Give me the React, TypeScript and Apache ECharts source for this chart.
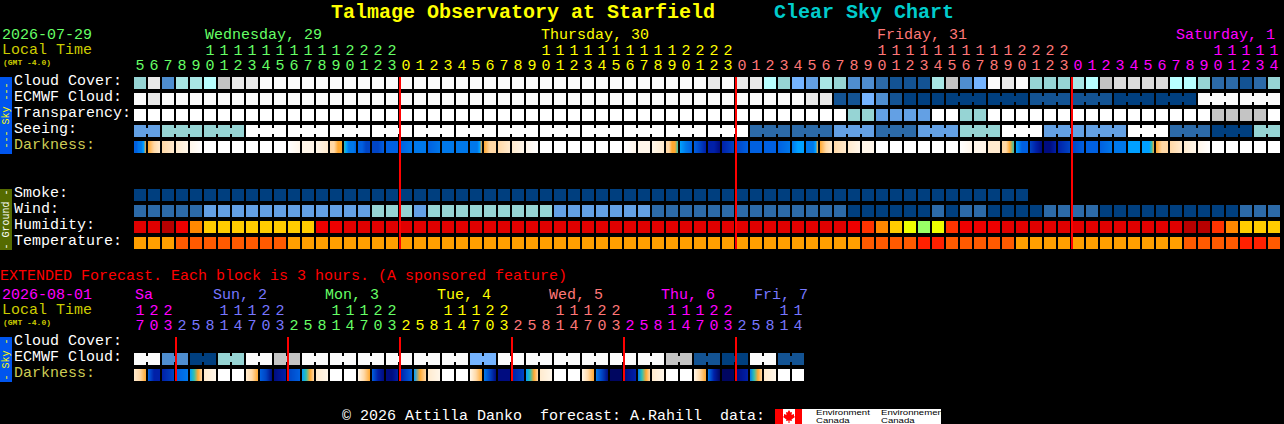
import React, { useEffect, useRef } from "react";
import * as echarts from "echarts";

// ---------- tick labels ----------
const hourOnes = ["5","6","7","8","9","0","1","2","3","4","5","6","7","8","9","0","1","2","3",
  "0","1","2","3","4","5","6","7","8","9","0","1","2","3","4","5","6","7","8","9","0","1","2","3",
  "0","1","2","3","4","5","6","7","8","9","0","1","2","3","4","5","6","7","8","9","0","1","2","3",
  "0","1","2","3","4","5","6","7","8","9","0","1","2","3","4"];
const hourTens = ["","","","","","1","1","1","1","1","1","1","1","1","1","2","2","2","2",
  "","","","","","","","","","","1","1","1","1","1","1","1","1","1","1","2","2","2","2",
  "","","","","","","","","","","1","1","1","1","1","1","1","1","1","1","2","2","2","2",
  "","","","","","","","","","","1","1","1","1","1"];
const extOnes = ["7","0","3",
  "2","5","8","1","4","7","0","3","2","5","8","1","4","7","0","3",
  "2","5","8","1","4","7","0","3","2","5","8","1","4","7","0","3",
  "2","5","8","1","4","7","0","3","2","5","8","1","4"];
const extTens = ["1","2","2",
  "","","","1","1","1","2","2","","","","1","1","1","2","2",
  "","","","1","1","1","2","2","","","","1","1","1","2","2",
  "","","","1","1","1","2","2","","","","1","1"];
const rowLabels = ["Cloud Cover:","ECMWF Cloud:","Transparency:","Seeing:","Darkness:","","","Smoke:","Wind:","Humidity:","Temperature:"];
const extRowLabels = ["Cloud Cover:","ECMWF Cloud:","Darkness:"];

// ---------- hourly forecast ----------
const cloudCover = [50,90,30,60,60,70,80,90,90,100,100,100,100,100,100,100,100,100,100,100,100,100,100,100,100,100,100,100,100,100,100,100,100,100,100,100,100,100,100,100,100,90,100,90,90,70,50,40,35,60,50,30,30,20,10,10,10,60,80,30,40,100,90,100,50,50,50,60,70,80,85,85,85,85,70,70,50,20,20,10,20,50];
const ecmwfCloud = [100,90,100,100,100,100,100,100,100,100,100,100,100,100,100,100,100,100,100,100,100,100,100,100,100,100,100,100,100,100,100,100,100,100,100,100,100,100,100,100,100,100,100,100,100,100,100,100,90,90,10,10,40,30,10,0,0,0,0,0,0,0,0,0,10,10,10,10,10,10,0,0,0,0,0,0,100,100,100,100,100,100];
const transparency = [110,110,110,110,110,110,110,110,110,110,110,110,110,110,110,110,110,110,110,110,110,110,110,110,110,110,110,110,110,110,110,110,110,110,110,110,110,110,110,110,110,110,110,110,110,110,110,110,110,110,110,50,50,35,35,35,35,110,110,50,50,110,110,110,110,110,110,110,110,110,110,110,110,110,110,110,110,80,80,80,80,110];
const seeing = [35,35,50,50,50,50,50,50,110,110,110,110,110,110,110,110,110,110,110,110,110,110,110,110,110,110,110,110,110,110,110,110,110,110,110,110,110,110,110,110,110,110,110,110,20,20,20,20,20,20,35,35,35,20,20,20,35,35,35,50,50,50,110,110,110,35,35,35,35,35,35,110,110,110,20,20,20,0,0,0,50,50];
const smoke = [0,0,0,0,0,0,0,0,0,0,0,0,0,0,0,0,0,0,0,0,0,0,0,0,0,0,0,0,0,0,0,0,0,0,0,0,0,0,0,0,0,0,0,0,0,0,0,0,0,0,0,0,0,0,0,0,0,0,0,0,0,0,0,0];
const wind = [20,20,20,20,20,35,35,35,35,35,35,35,35,35,35,35,35,50,50,50,35,50,50,50,50,50,50,50,50,50,35,35,35,35,35,35,35,20,20,20,20,20,20,20,20,20,20,20,20,20,20,0,0,0,0,0,0,20,0,20,20,0,0,0,0,20,20,20,20,0,0,0,0,0,0,0,0,0,0,20,20,20];
const humidity = [92,92,98,87,72,65,65,65,65,65,65,65,65,87,87,92,92,92,92,92,92,92,92,92,92,92,92,92,92,92,92,92,92,92,92,92,92,92,92,92,92,92,92,92,92,92,92,92,92,92,92,87,80,72,65,55,45,55,80,87,87,87,92,92,92,92,92,92,92,92,92,92,92,92,92,98,98,80,72,65,65,65];
const temperature = [20,20,20,25,25,25,25,25,25,25,25,20,20,20,20,20,20,20,20,20,20,20,20,20,20,20,20,20,20,20,20,20,20,20,20,20,20,20,20,20,20,20,20,20,20,20,20,20,20,20,20,20,25,25,25,25,30,30,25,25,25,25,25,20,20,20,20,20,20,20,20,20,20,20,20,25,25,25,25,30,30,25];
const darkness = [
  [8,8,7,7,6,4],[4,3,2],[3,2],[2,1],[1,0],[0],[0],[0],[0],[0],[0],[0,1],[1,1],[1,2],[3,3,4,4],
  [5,6,7,7,7,8],[8,8,9,9],[9,9,8],[8,8],[8,7],[7],[8,7],[7],[7],[7,7,7,7,6,4],
  [4,3,3],[3,2],[2,1],[1,0],[0],[0],[0],[0],[0],[0],[0,1],[1,1],[1,2],[3,3,4,4,5],
  [6,7,8],[8,9,10],[10,10,11],[10,9],[9,8],[8],[8],[8,7],[7,6,6],[7,7,7,7,6,4],
  [4,3,2],[3,2],[2,1],[1],[0],[0],[0],[0],[0],[0],[0,1],[1,1],[2,2],[3,3,4,5],
  [6,8,8],[9,10,11],[11,11,10],[10,9],[9,8],[8],[8,7],[7],[6],[6,6,6,6,5,4],
  [4,3,3],[3,2],[2,1],[1,0],[0],[0],[0],[0],[0],
];

// ---------- extended forecast, 3-hour blocks ----------
const extEcmwf = [100,100,30,30,0,0,50,50,100,100,80,80,100,100,100,100,100,100,100,100,100,100,100,100,40,40,100,100,100,100,100,100,100,100,100,100,100,100,80,80,10,10,0,0,100,100,10,10];
const extDarkness = [
  [2,3,4],[8,10,10],[10,9],[8,7],[6,5,4,3],[2,1],[0],[0],
  [2,3,4],[8,9,11],[11,10],[9,8],[6,5,4,3],[2,1],[0],[0],
  [1,3,4],[8,10,11],[11,11,10],[10,8],[6,4,3],[2,1],[0],[0],
  [1,3,4],[7,9,11],[11,11],[10,9],[6,5,4,3],[2,1],[0],[0],
  [1,3,4],[7,9,11],[12,12],[11,10],[7,5,4,3],[2,1],[0],[0],
  [1,3,4],[7,10,12],[12,12],[11,10],[7,5,4,3],[2,1],[0],[0],
];
const midnightCols = [19, 43, 67];
const extMidnightCols = [3, 11, 19, 27, 35, 43];
const ecmwfBlockFrom = 58;
const ecmwfBlockHours = 3;
const seeingBlockFrom = 2;
const seeingBlockHours = 3;
const extBlockHours = 2;

const dayLabels = [
  { t: "Wednesday, 29", x: 205, c: "#66ff66" },
  { t: "Thursday, 30", x: 541, c: "#ffff00" },
  { t: "Friday, 31", x: 877, c: "#ff7777" },
  { t: "Saturday, 1", x: 1176, c: "#ff00ff" },
];
const extDayLabels = [
  { t: "Sa", x: 135, c: "#ff00ff" },
  { t: "Sun, 2", x: 213, c: "#7777ff" },
  { t: "Mon, 3", x: 325, c: "#66ff66" },
  { t: "Tue, 4", x: 437, c: "#ffff00" },
  { t: "Wed, 5", x: 549, c: "#ff7777" },
  { t: "Thu, 6", x: 661, c: "#ff00ff" },
  { t: "Fri, 7", x: 754, c: "#7777ff" },
];

// ---------- colour scales ----------
const skyColors: Record<number, string> = {
  0: "#003f7f", 10: "#135393", 20: "#2c6aa8", 30: "#4f8ed0", 35: "#63a0e4", 40: "#75b4ff",
  50: "#96d4d4", 60: "#a8e6e4", 70: "#b8ffff", 80: "#c4c4c4", 85: "#dcdcdc", 90: "#e9e9e9",
  100: "#fbfbfb", 110: "#ffffff",
};
const humidityColors: Record<number, string> = {
  98: "#b80000", 92: "#e00000", 87: "#ee0000", 80: "#ff3300", 72: "#ff8800", 65: "#ffcc00", 55: "#eeff00", 45: "#99ff66",
};
const temperatureColors: Record<number, string> = { 20: "#ff9f00", 25: "#ff5a00", 30: "#ff2000" };
const darknessColors = ["#ffffff","#fff6ea","#ffeace","#ffd8a6","#ffa830","#30c0b0","#00a0ff","#0078ea","#0060e0","#0044c4","#0020a8","#000c80","#000660"];

const GREEN = "#66ff66", YELLOW = "#ffff00", SALMON = "#ff7777", MAGENTA = "#ff00ff", VIOLET = "#7777ff";
const OLIVE = "#cccc00", DARKLABEL = "#cccc55";
const MONO = '"Liberation Mono", monospace';
const SANS = '"Liberation Sans", sans-serif';
const font = (px: number, bold = false) => `${bold ? "bold " : ""}${px}px ${MONO}`;

const topHourColor = (i: number) => (i < 19 ? GREEN : i < 43 ? YELLOW : i < 67 ? SALMON : MAGENTA);
const extHourColor = (i: number) =>
  i < 3 ? MAGENTA : i < 11 ? VIOLET : i < 19 ? GREEN : i < 27 ? YELLOW : i < 35 ? SALMON : i < 43 ? MAGENTA : VIOLET;

const CELL = 12;

const hexRgb = (h: string) => [1, 3, 5].map((k) => parseInt(h.slice(k, k + 2), 16));
// Colour across one darkness cell, at position t in 0..1, between its samples.
function darknessAt(s: number[], t: number) {
  if (s.length === 1) return darknessColors[s[0]];
  const p = t * (s.length - 1);
  const k = Math.min(Math.floor(p), s.length - 2);
  const a = hexRgb(darknessColors[s[k]]), b = hexRgb(darknessColors[s[k + 1]]);
  const f = p - k;
  return `rgb(${a.map((v, n) => Math.round(v + (b[n] - v) * f)).join(",")})`;
}

function cellSeries(name: string, gridIdx: number, row: number, values: number[], colors: Record<number, string>, joined?: (i: number) => boolean) {
  return {
    type: "custom", name, xAxisIndex: gridIdx === 0 ? 0 : 2, yAxisIndex: gridIdx, clip: false, silent: true,
    encode: { x: 0, y: 1 },
    data: values.map((v, i) => [i, row, v]),
    renderItem(_: any, api: any) {
      const col = api.value(0);
      const [cx, cy] = api.coord([col, api.value(1)]);
      const fill = colors[api.value(2)];
      const x = cx - CELL / 2, y = cy - CELL / 2;
      const children: any[] = [{ type: "rect", shape: { x, y, width: CELL, height: CELL }, style: { fill } }];
      if (joined && joined(col) && col < values.length - 1) {
        children.push({ type: "rect", shape: { x: x + CELL, y: y + 3, width: 2, height: 6 }, style: { fill } });
      }
      return { type: "group", children };
    },
  };
}

function darknessSeries(gridIdx: number, row: number, samples: number[][]) {
  return {
    type: "custom", name: "Darkness", xAxisIndex: gridIdx === 0 ? 0 : 2, yAxisIndex: gridIdx, clip: false, silent: true,
    encode: { x: 0, y: 1 },
    data: samples.map((_, i) => [i, row]),
    renderItem(_: any, api: any) {
      const col = api.value(0);
      const [cx, cy] = api.coord([col, api.value(1)]);
      const s = samples[col];
      const x = cx - CELL / 2, y = cy - CELL / 2;
      if (s.length === 1) {
        return { type: "rect", shape: { x, y, width: CELL, height: CELL }, style: { fill: darknessColors[s[0]] } };
      }
      const children: any[] = [];
      for (let k = 0; k < CELL; k++) {
        children.push({
          type: "rect",
          shape: { x: x + k, y, width: 1, height: CELL },
          style: { fill: darknessAt(s, (k + 0.5) / CELL) },
        });
      }
      return { type: "group", children };
    },
  };
}

function midnightSeries(gridIdx: number, cols: number[], lastRow: number) {
  return {
    type: "custom", name: "Midnight", xAxisIndex: gridIdx === 0 ? 0 : 2, yAxisIndex: gridIdx, clip: false, silent: true, z: 5,
    encode: { x: 0 },
    data: cols.map((c) => [c]),
    renderItem(_: any, api: any) {
      const col = api.value(0);
      const top = api.coord([col, 0]);
      const bottom = api.coord([col, lastRow]);
      return {
        type: "rect",
        shape: { x: top[0] - CELL / 2 - 1, y: top[1] - CELL / 2, width: 2, height: bottom[1] - top[1] + CELL },
        style: { fill: "#ff0000" },
      };
    },
  };
}

function hourAxis(gridIndex: number, data: string[], offset: number, color: (i: number) => string) {
  return {
    type: "category", gridIndex, position: "top", data, offset,
    axisLine: { show: false }, axisTick: { show: false }, splitLine: { show: false },
    axisLabel: {
      show: true, interval: 0, margin: 1, color: (_: any, i: number) => color(i),
      fontFamily: MONO, fontSize: 15, hideOverlap: false,
    },
  };
}

const rowLabelStyle = { fontFamily: MONO, fontSize: 15, padding: [0, 0, 3, 0] };

function rowAxis(gridIndex: number, data: string[]) {
  return {
    type: "category", gridIndex, position: "left", inverse: true, data,
    axisLine: { show: false }, axisTick: { show: false }, splitLine: { show: false },
    axisLabel: {
      show: true, interval: 0, margin: 119, align: "left",
      formatter: (v: string) => (v === "" ? "" : v === "Darkness:" ? `{dark|${v}}` : `{row|${v}}`),
      rich: {
        row: { ...rowLabelStyle, color: "#ffffff" },
        dark: { ...rowLabelStyle, color: DARKLABEL },
      },
    },
  };
}

const txt = (text: string, x: number, y: number, fill: string, px = 15, bold = false) => ({
  type: "text", x, y,
  style: { text, fill, font: font(px, bold), align: "left", verticalAlign: "middle" },
});

const logoTxt = (text: string, x: number, y: number) => ({
  type: "text", x, y, scaleX: 1.2,
  style: { text, fill: "#000000", font: `8px ${SANS}`, align: "left", verticalAlign: "middle" },
});

function sideBar(y: number, h: number, fill: string, label: string, color: string) {
  return [
    { type: "rect", shape: { x: 0, y, width: 12, height: h }, style: { fill } },
    {
      type: "text", x: 6, y: y + h / 2, rotation: Math.PI / 2,
      style: { text: label, fill: color, font: font(10), align: "center", verticalAlign: "middle" },
    },
  ];
}

const leaf = [[789,410],[790.5,412.5],[792,412],[791.5,415],[794,414],[794,416],[795,417],[791.5,419.5],[792,421],[789.5,420.5],[789.5,423],[788.5,423],[788.5,420.5],[786,421],[786.5,419.5],[783,417],[784,416],[784,414],[786.5,415],[786,412],[787.5,412.5]];

export default function App() {
  const ref = useRef<HTMLDivElement>(null);
  useEffect(() => {
    document.body.style.margin = "0";
    document.body.style.background = "#000";
    const chart = echarts.init(ref.current!, undefined, { renderer: "svg" });
    chart.setOption({
      animation: false,
      backgroundColor: "#000000",
      title: [
        { text: "Talmage Observatory at Starfield", left: 331, top: 2, padding: 0, textStyle: { color: "#ffff00", fontFamily: MONO, fontSize: 20, fontWeight: "bold" } },
        { text: "Clear Sky Chart", left: 774, top: 2, padding: 0, textStyle: { color: "#00cccc", fontFamily: MONO, fontSize: 20, fontWeight: "bold" } },
      ],
      grid: [
        { left: 133, top: 75, width: 82 * 14, height: 11 * 16 },
        { left: 133, top: 335, width: 48 * 14, height: 3 * 16 },
      ],
      xAxis: [
        hourAxis(0, hourOnes, 0, topHourColor),
        hourAxis(0, hourTens, 15, topHourColor),
        hourAxis(1, extOnes, 0, extHourColor),
        hourAxis(1, extTens, 15, extHourColor),
      ],
      yAxis: [rowAxis(0, rowLabels), rowAxis(1, extRowLabels)],
      series: [
        cellSeries("Cloud Cover", 0, 0, cloudCover, skyColors),
        cellSeries("ECMWF Cloud", 0, 1, ecmwfCloud, skyColors, (i) => i >= ecmwfBlockFrom && (i - ecmwfBlockFrom) % ecmwfBlockHours !== ecmwfBlockHours - 1),
        cellSeries("Transparency", 0, 2, transparency, skyColors),
        cellSeries("Seeing", 0, 3, seeing, skyColors, (i) => i < seeingBlockFrom ? i === 0 : (i - seeingBlockFrom) % seeingBlockHours !== seeingBlockHours - 1),
        darknessSeries(0, 4, darkness),
        cellSeries("Smoke", 0, 7, smoke, skyColors),
        cellSeries("Wind", 0, 8, wind, skyColors),
        cellSeries("Humidity", 0, 9, humidity, humidityColors),
        cellSeries("Temperature", 0, 10, temperature, temperatureColors),
        midnightSeries(0, midnightCols, 10),
        cellSeries("Extended ECMWF Cloud", 1, 1, extEcmwf, skyColors, (i) => i % extBlockHours === 0),
        darknessSeries(1, 2, extDarkness),
        midnightSeries(1, extMidnightCols, 2),
      ],
      graphic: { elements: [
        txt("2026-07-29", 2, 35, GREEN),
        txt("Local Time", 2, 50, OLIVE),
        txt("(GMT -4.0)", 3, 62, OLIVE, 8, true),
        ...dayLabels.map((d) => txt(d.t, d.x, 35, d.c)),
        ...sideBar(77, 77, "#0055ee", "--- Sky ---", "#ffff00"),
        ...sideBar(189, 61, "#556b00", "- Ground -", "#ffffff"),
        txt("EXTENDED Forecast. Each block is 3 hours. (A sponsored feature)", 0, 276, "#ff0000"),
        txt("2026-08-01", 2, 295, MAGENTA),
        txt("Local Time", 2, 310, OLIVE),
        txt("(GMT -4.0)", 3, 322, OLIVE, 8, true),
        ...extDayLabels.map((d) => txt(d.t, d.x, 295, d.c)),
        ...sideBar(337, 45, "#0055ee", "- Sky -", "#ffff00"),
        txt("© 2026 Attilla Danko  forecast: A.Rahill  data:", 342, 416, "#ffffff"),
        { type: "rect", shape: { x: 775, y: 409, width: 166, height: 15 }, style: { fill: "#ffffff" } },
        { type: "rect", shape: { x: 775, y: 409, width: 8, height: 15 }, style: { fill: "#ff0000" } },
        { type: "rect", shape: { x: 795, y: 409, width: 7, height: 15 }, style: { fill: "#ff0000" } },
        { type: "polygon", shape: { points: leaf }, style: { fill: "#ff0000" } },
        logoTxt("Environment", 816, 412.5),
        logoTxt("Canada", 816, 420.5),
        logoTxt("Environnement", 881, 412.5),
        logoTxt("Canada", 881, 420.5),
      ] },
    });
    return () => chart.dispose();
  }, []);
  return <div ref={ref} style={{ position: "fixed", left: 0, top: 0, width: 1284, height: 424, background: "#000" }} />;
}
